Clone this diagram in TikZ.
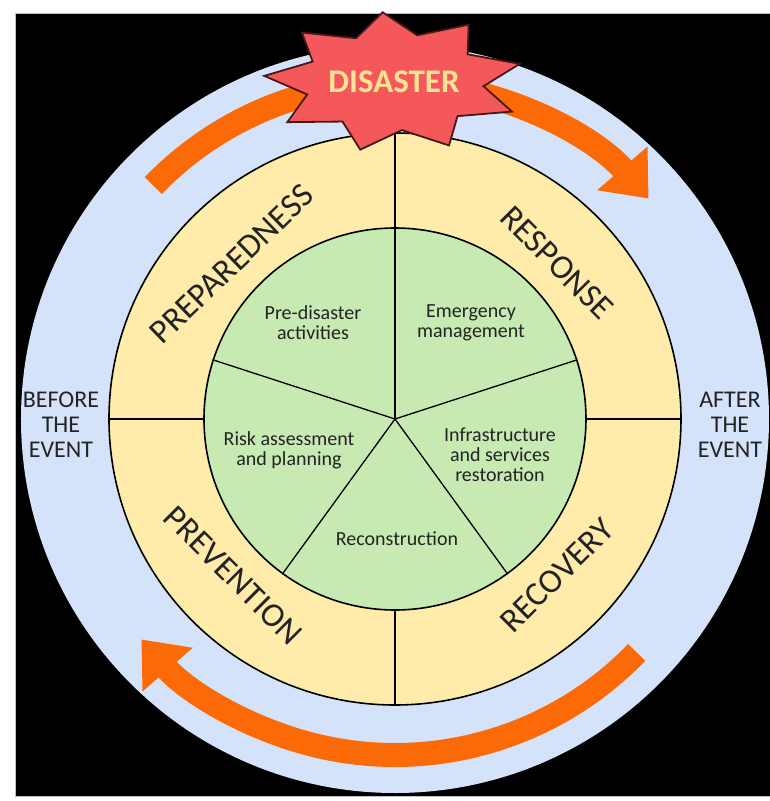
\documentclass[tikz,border=0pt]{standalone}
\usepackage{fontspec}
\setmainfont{Carlito}
\usepackage{xcolor}
\usetikzlibrary{arrows.meta,positioning,shapes.geometric}

\definecolor{skyblue}{RGB}{213,227,250}
\definecolor{ringyellow}{RGB}{255,235,170}
\definecolor{coregreen}{RGB}{199,233,178}
\definecolor{cycleorange}{RGB}{252,106,8}
\definecolor{starred}{RGB}{245,88,90}
\definecolor{stardark}{RGB}{70,25,25}
\definecolor{titleyellow}{RGB}{255,228,150}
\definecolor{textgray}{RGB}{35,35,35}

\begin{document}
\begin{tikzpicture}[x=1pt, y=1pt]
\tikzset{
    myring/.style={circle, draw=black, line width=1.6pt, inner sep=0pt},
    myspoke/.style={draw=black, line width=1.3pt},
    myphase/.style={font=\fontsize{34}{40}\selectfont, text=textgray, inner sep=0pt},
    mytask/.style={font=\fontsize{20}{20}\selectfont, text=textgray, align=center, inner sep=0pt},
    myside/.style={font=\fontsize{24}{25}\selectfont, text=textgray, align=center, inner sep=0pt},
    myband/.style={draw=cycleorange, line width=24pt},
    myarrow/.style={myband, -{Triangle[length=40pt, width=64pt]}},
    mystar/.style={star, star points=9, star point ratio=1.45, shape border rotate=5, minimum size=140pt, xscale=1.86, fill=starred, draw=stardark, line width=1.8pt, inner sep=0pt},
    mytitle/.style={font=\bfseries\fontsize{33}{33}\selectfont, text=titleyellow}
}
\useasboundingbox (-395,-382) rectangle (375,419);
\fill[white] (-395,-382) rectangle (375,419);
\filldraw[fill=black, draw=gray!50, line width=1pt] (-379,-377) rectangle (375,405);
% The origin is the centre of the three circles.

\node[circle, fill=skyblue, minimum size=748pt, inner sep=0pt] (outer) at (0,0) {};
\node[myring, fill=ringyellow, minimum size=572pt] (ring) at (0,0) {};
\node[myring, fill=coregreen, minimum size=382pt] (core) at (0,0) {};

\foreach \side in {north, south, east, west}
    \draw[myspoke] (ring.\side) -- (core.\side);
\foreach \angle in {90, 162, 234, 306, 18}
    \draw[myspoke] (core.center) -- (core.\angle);
% The green core is cut into five slices, the yellow ring into four.

\node[myphase, rotate=44] (preparedness) at (136.5:225) {PREPAREDNESS};
\node[myphase, rotate=-45] (response) at (44:225) {RESPONSE};
\node[myphase, rotate=45] (recovery) at (-44:225) {RECOVERY};
\node[myphase, rotate=-45] (prevention) at (-136:225) {PREVENTION};

\node[mytask] (predisaster) at (-82,96) {Pre-disaster\\activities};
\node[mytask] (emergency) at (76,96) {Emergency\\management};
\node[mytask] (infrastructure) at (105,-36) {Infrastructure\\and services\\restoration};
\node[mytask] (reconstruction) at (2,-120) {Reconstruction};
\node[mytask] (risk) at (-106,-31) {Risk assessment\\and planning};

\node[myside] (before) at (-334,-6) {BEFORE\\THE\\EVENT};
\node[myside] (after) at (335,-6) {AFTER\\THE\\EVENT};

\draw[myband] (136:336) arc[start angle=136, end angle=100, radius=336];
\draw[myarrow] (80:336) arc[start angle=80, end angle=41, radius=336];
\draw[myarrow] (-44:336) arc[start angle=-44, end angle=-139, radius=336];
% The first band runs on under the star.

\node[mystar] (disaster) at (-1,337) {};
\node[mytitle] (title) at (disaster) {DISASTER};

\end{tikzpicture}
\end{document}
